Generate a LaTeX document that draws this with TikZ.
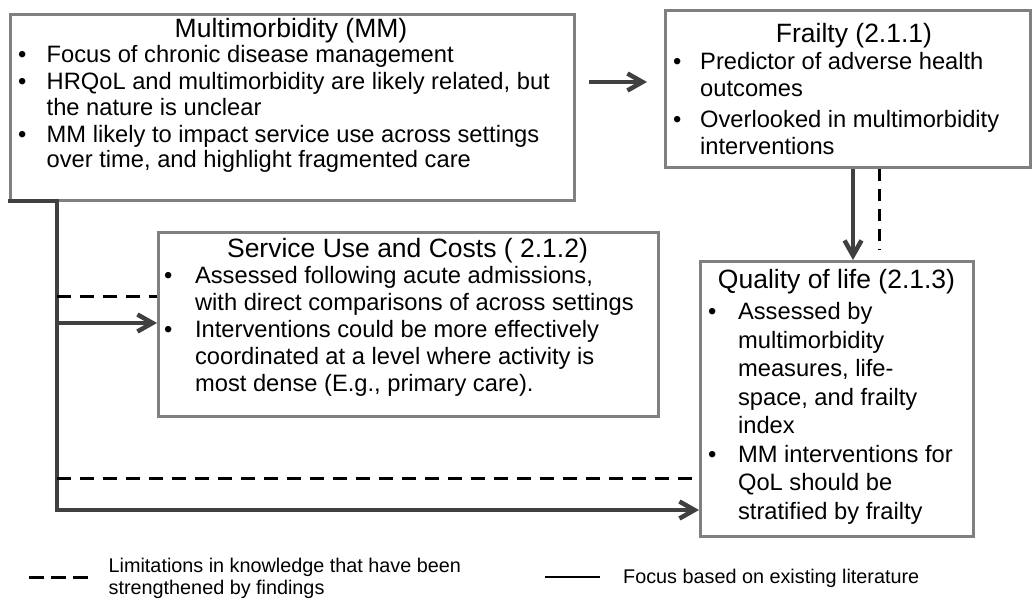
\documentclass[tikz,border=0pt]{standalone}
\usepackage{fontspec}
\setmainfont{Liberation Sans}
\usetikzlibrary{arrows.meta}
\definecolor{boxgray}{HTML}{808080}
\definecolor{arrgray}{HTML}{404040}
\newlength\bulw
\newlength\bgap
\newcommand\fitem[1]{\noindent\makebox[\bulw][l]{\textbullet}#1}
\newcommand\bitem[1]{\par\vspace{\bgap}\noindent\makebox[\bulw][l]{\textbullet}#1}
\newcommand\citem[1]{\par\noindent\hspace*{\bulw}#1}
\tikzset{
  box/.style={draw=boxgray, line width=3pt, fill=white, inner sep=0pt, anchor=north west},
  ttl/.style={inner sep=0pt, anchor=base, font=\fontsize{26.5}{28}\selectfont},
  body/.style={inner sep=0pt, anchor=base west},
  conn/.style={draw=arrgray, line width=4.5pt, line join=miter},
  arr/.style={conn, -{Straight Barb[length=15pt, width=17pt]}},
  dline/.style={draw=black, line width=3pt, dash pattern=on 14pt off 9pt},
  legtxt/.style={inner sep=0pt, anchor=base west, font=\fontsize{19.8}{22}\selectfont}
}
\begin{document}
\begin{tikzpicture}[x=1pt,y=-1pt]
\useasboundingbox[fill=white] (0,0) rectangle (1036,601);

% boxes
\node[box, minimum width=564pt, minimum height=186pt] (mm) at (9,13) {};
\node[box, minimum width=365pt, minimum height=157pt] (fr) at (664,9) {};
\node[box, minimum width=500pt, minimum height=184pt] (sv) at (157,231) {};
\node[box, minimum width=273pt, minimum height=275pt] (ql) at (699,260) {};

% titles
\node[ttl] (mmt) at (291,38) {Multimorbidity (MM)};
\node[ttl] (frt) at (854,43) {Frailty (2.1.1)};
\node[ttl] (svt) at (407.5,258) {Service Use and Costs ( 2.1.2)};
\node[ttl] (qlt) at (836.5,289) {Quality of life (2.1.3)};

% bodies
\node[body] (mmb) at (17.9,63) {\parbox[t]{600pt}{\fontsize{23.7}{25.5}\selectfont
  \setlength\bulw{28.6pt}\setlength\bgap{1.5pt}%
  \fitem{Focus of chronic disease management}
  \bitem{HRQoL and multimorbidity are likely related, but}
  \citem{the nature is unclear}
  \bitem{MM likely to impact service use across settings}
  \citem{over time, and highlight fragmented care}}};

\node[body] (frb) at (672.9,70) {\parbox[t]{400pt}{\fontsize{23.7}{27}\selectfont
  \setlength\bulw{27.1pt}\setlength\bgap{4pt}%
  \fitem{Predictor of adverse health}
  \citem{outcomes}
  \bitem{Overlooked in multimorbidity}
  \citem{interventions}}};

\node[body] (svb) at (163.9,284) {\parbox[t]{520pt}{\fontsize{23.7}{27}\selectfont
  \setlength\bulw{31pt}\setlength\bgap{0pt}%
  \fitem{Assessed following acute admissions,}
  \citem{with direct comparisons of across settings}
  \bitem{Interventions could be more effectively}
  \citem{coordinated at a level where activity is}
  \citem{most dense (E.g., primary care).}}};

\node[body] (qlb) at (707.9,320) {\parbox[t]{300pt}{\fontsize{23.7}{28.5}\selectfont
  \setlength\bulw{30pt}\setlength\bgap{0pt}%
  \fitem{Assessed by}
  \citem{multimorbidity}
  \citem{measures, life-}
  \citem{space, and frailty}
  \citem{index}
  \bitem{MM interventions for}
  \citem{QoL should be}
  \citem{stratified by frailty}}};

% connectors
\coordinate (ya) at (0,82);
\draw[arr, shorten <=13pt, shorten >=17pt] (mm.east |- ya) -- (fr.west |- ya);

\coordinate (xa) at (853,0);
\coordinate (xb) at (879,0);
\draw[arr] (fr.south -| xa) -- (ql.north -| xa);
\draw[dline, dash pattern=on 12pt off 8pt, shorten >=10pt] (fr.south -| xb) -- (ql.north -| xb);

\coordinate (mmsw) at (8,201);
\coordinate (vtop) at (57,201);
\coordinate (vbot) at (57,510);
\draw[arr] (mmsw) -- (vtop) -- (vbot) -- (vbot -| ql.west);

\coordinate (d1) at (57,297);
\draw[dline] (d1) -- (d1 -| sv.west);
\coordinate (s1) at (57,323);
\draw[arr] (s1) -- (s1 -| sv.west);

\coordinate (d2) at (57,478);
\draw[dline] (d2) -- (d2 -| ql.west);

% legend
\coordinate (la) at (29,577);
\coordinate (lb) at (88,577);
\draw[line width=3pt, dash pattern=on 15pt off 7pt] (la) -- (lb);
\node[legtxt] (lt1) at (108.5,572) {\parbox[t]{400pt}{\fontsize{19.8}{22}\selectfont Limitations in knowledge that have been\par strengthened by findings}};

\coordinate (lc) at (545,577);
\coordinate (ld) at (600,577);
\draw[line width=2pt] (lc) -- (ld);
\node[legtxt] (lt2) at (623,583) {Focus based on existing literature};
\end{tikzpicture}
\end{document}
